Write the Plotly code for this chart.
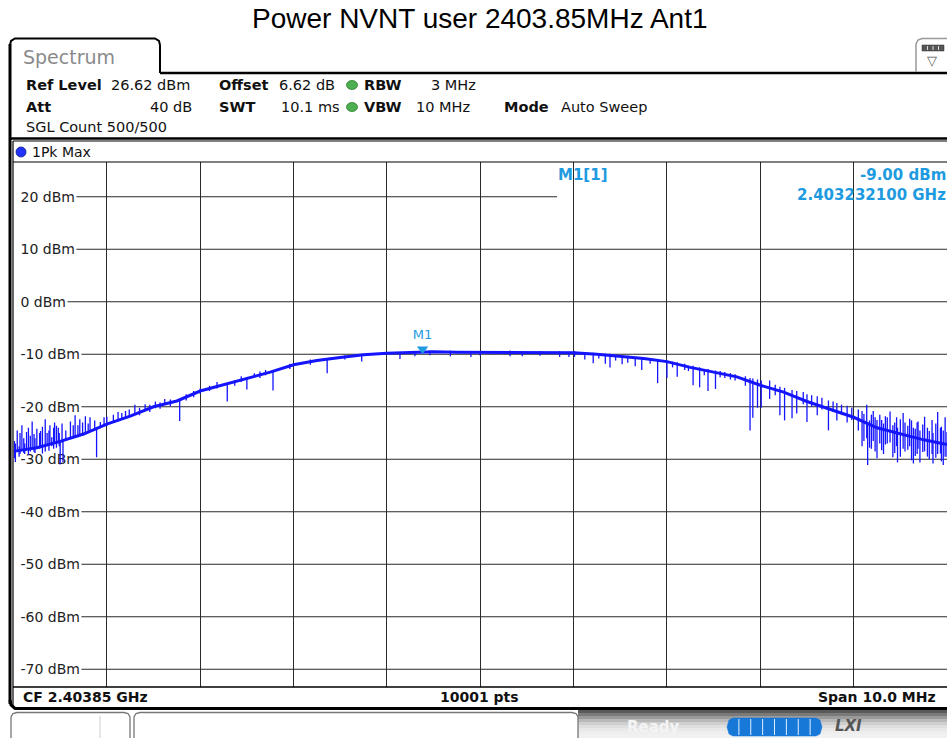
import plotly.graph_objects as go

# ---------------- data ----------------
start_ghz = 2.39885
span_mhz = 10.0
ref_level = 26.62
marker_freq_ghz = 2.4032321
marker_level = -9.00

# main trace line (offset from start frequency in MHz, level in dBm)
env_off = [0.0, 0.25, 0.5, 0.75, 1.0, 1.25, 1.5, 1.75, 2.0, 2.25, 2.5, 2.75, 3.0,
           3.25, 3.5, 3.75, 4.0, 4.25, 4.5, 4.75, 5.0, 5.25, 5.5, 5.75, 6.0, 6.25,
           6.5, 6.75, 7.0, 7.25, 7.5, 7.75, 8.0, 8.25, 8.5, 8.75, 9.0, 9.25, 9.5,
           9.75, 10.0]
env_dbm = [-28.5, -27.8, -26.6, -25.2, -23.3, -21.8, -20.0, -18.9, -17.0, -15.8,
           -14.6, -13.4, -12.0, -11.2, -10.6, -10.1, -9.8, -9.6, -9.5, -9.6, -9.6,
           -9.6, -9.6, -9.6, -9.7, -10.0, -10.4, -10.8, -11.4, -12.5, -13.4, -14.3,
           -15.9, -17.2, -19.0, -20.5, -22.0, -24.0, -25.2, -26.3, -27.2]

# spikes / noise excursions: offset (MHz), low (dBm), high (dBm)
spike_off = [0.02, 0.04, 0.06, 0.09, 0.12, 0.14, 0.18, 0.20, 0.23, 0.25, 0.28, 0.29,
             0.34, 0.36, 0.39, 0.41, 0.44, 0.48, 0.49, 0.50, 0.52, 0.53, 0.56, 0.61,
             0.64, 0.66, 0.69, 0.71, 0.74, 0.77, 0.80, 0.82, 0.87, 0.89, 0.93, 0.97,
             1.00, 1.07, 1.16, 1.24, 1.30, 1.41, 1.52, 1.62, 1.78, 2.00, 2.10, 2.29,
             2.37, 2.50, 2.64, 2.78, 2.96, 3.18, 3.36, 3.55, 3.73, 4.14, 4.46, 4.68,
             5.00, 5.32, 5.64, 5.85, 6.01, 6.12, 6.21, 6.34, 6.39, 6.52, 6.58, 6.66,
             6.73, 6.82, 6.90, 7.00, 7.11, 7.19, 7.28, 7.35, 7.44, 7.52, 7.62, 7.73,
             7.84, 7.89, 7.92, 7.97, 8.01, 8.10, 8.16, 8.21, 8.26, 8.34, 8.39, 8.46,
             8.50, 8.55, 8.61, 8.66, 8.73, 8.78, 8.82, 8.87, 8.93, 8.98, 9.05, 9.09,
             9.14, 9.15, 9.19, 9.21, 9.25, 9.28, 9.30, 9.36, 9.39, 9.42, 9.46, 9.47,
             9.53, 9.55, 9.60, 9.64, 9.68, 9.69, 9.71, 9.76, 9.79, 9.84, 9.85, 9.90,
             9.96, 9.98,
             0.01, 0.07, 0.11, 0.16, 0.22, 0.31, 0.38, 0.43, 0.46, 1.12, 1.20, 1.35,
             1.46, 1.57, 1.68, 1.85, 1.93, 2.18, 2.44, 2.58, 2.70, 4.30, 4.90, 5.45,
             5.95, 6.27, 6.45, 7.06, 7.23, 7.40, 7.57, 7.68, 9.11, 9.17, 9.23, 9.32,
             9.34, 9.44, 9.50, 9.58, 9.62, 9.66, 9.74, 9.81, 9.88, 9.93, 9.94, 10.0]
spike_lo = [-30.5, -28.5, -29.5, -28.3, -29.0, -28.2, -28.5, -28.0, -28.8, -27.8,
            -28.0, -27.6, -28.5, -27.5, -27.2, -27.5, -27.0, -27.0, -27.5, -31.0,
            -26.8, -30.5, -26.5, -26.2, -26.0, -25.8, -25.8, -25.6, -25.4, -25.2,
            -25.0, -24.8, -24.5, -29.6, -24.0, -23.8, -23.6, -23.0, -22.5, -22.0,
            -21.5, -20.8, -20.3, -19.6, -22.7, -17.5, -17.0, -19.0, -16.0, -16.7,
            -14.5, -16.9, -12.8, -12.0, -13.6, -11.0, -11.4, -10.9, -10.2, -10.4,
            -10.3, -10.4, -10.3, -10.5, -10.5, -11.0, -11.7, -11.8, -12.5, -11.9,
            -11.6, -12.3, -13.0, -11.8, -15.5, -14.5, -14.3, -13.0, -15.9, -16.3,
            -17.0, -16.6, -14.5, -15.0, -16.0, -24.5, -22.1, -20.2, -20.2, -18.5,
            -17.8, -21.6, -22.6, -22.2, -21.3, -19.5, -22.9, -20.0, -21.6, -20.5,
            -24.5, -21.0, -22.6, -21.5, -23.0, -22.5, -24.5, -27.5, -26.0, -31.1,
            -28.0, -26.5, -29.8, -27.0, -28.3, -27.0, -26.8, -29.6, -27.5, -30.6,
            -28.0, -28.5, -27.5, -30.8, -29.0, -28.0, -30.6, -28.5, -29.5, -29.0,
            -30.8, -29.0, -31.1, -29.5,
            -29.8, -29.0, -28.8, -29.2, -28.6, -28.9, -28.4, -28.0, -27.8, -22.8,
            -22.3, -21.6, -21.0, -20.4, -19.9, -18.8, -18.2, -16.5, -15.3, -14.4,
            -14.0, -10.4, -10.5, -10.4, -10.5, -10.8, -11.2, -12.5, -13.2, -14.0,
            -14.4, -14.8, -26.5, -27.8, -28.5, -29.0, -27.2, -28.8, -29.5, -28.2,
            -30.2, -29.4, -28.6, -30.0, -29.7, -28.9, -30.4, -29.5]
spike_hi = [-27.0, -24.5, -27.5, -23.5, -27.0, -24.8, -25.5, -22.8, -26.0, -24.2,
            -25.0, -24.6, -22.4, -25.0, -23.5, -25.8, -23.0, -24.0, -25.0, -26.5,
            -23.2, -26.5, -24.5, -22.8, -23.5, -21.6, -23.5, -22.4, -23.0, -21.8,
            -23.2, -22.0, -22.6, -24.0, -22.9, -22.0, -21.9, -21.5, -21.2, -20.5,
            -19.6, -19.5, -19.0, -18.5, -18.6, -16.5, -16.0, -15.5, -14.9, -14.4,
            -13.3, -13.2, -11.8, -11.0, -10.8, -10.2, -10.0, -9.6, -9.3, -9.3,
            -9.4, -9.3, -9.4, -9.4, -9.4, -9.6, -9.7, -9.9, -9.9, -10.2,
            -10.3, -10.5, -10.6, -10.8, -11.0, -11.2, -11.5, -11.8, -12.2, -12.5,
            -12.8, -13.1, -13.4, -13.8, -14.2, -14.5, -14.6, -14.8, -15.0, -15.0,
            -15.8, -16.2, -16.4, -16.8, -17.0, -17.2, -17.6, -17.8, -18.0, -18.3,
            -18.8, -19.0, -19.3, -19.6, -19.8, -20.2, -20.5, -20.8, -19.6, -23.0,
            -21.5, -20.8, -22.5, -21.5, -22.5, -22.0, -20.9, -23.5, -22.0, -24.0,
            -21.2, -23.0, -22.3, -24.0, -23.0, -22.8, -24.5, -21.9, -24.0, -22.5,
            -25.0, -21.0, -24.5, -22.0,
            -26.5, -25.0, -26.0, -24.0, -25.2, -23.8, -24.5, -24.0, -23.6, -21.0,
            -20.8, -20.2, -19.6, -19.2, -18.6, -17.6, -17.0, -15.3, -14.2, -13.6,
            -13.0, -9.4, -9.4, -9.4, -9.5, -9.8, -10.2, -11.4, -12.2, -12.9,
            -13.2, -13.6, -21.4, -22.6, -22.0, -23.2, -21.8, -23.0, -22.4, -23.6,
            -22.6, -24.2, -23.4, -24.6, -23.2, -24.0, -23.8, -24.8]

y_ticks = [20, 10, 0, -10, -20, -30, -40, -50, -60, -70]
y_tick_text = ["20 dBm", "10 dBm", "0 dBm", "-10 dBm", "-20 dBm", "-30 dBm",
               "-40 dBm", "-50 dBm", "-60 dBm", "-70 dBm"]

title_text = "Power NVNT user 2403.85MHz Ant1"
hdr_row1 = [("Ref Level", True), ("26.62 dBm", False), ("Offset", True),
            ("6.62 dB", False), ("RBW", True), ("3 MHz", False)]
hdr_row2 = [("Att", True), ("40 dB", False), ("SWT", True), ("10.1 ms", False),
            ("VBW", True), ("10 MHz", False), ("Mode", True), ("Auto Sweep", False)]
hdr_row3 = "SGL Count 500/500"
trace_label = "1Pk Max"
marker_name = "M1"
marker_title = "M1[1]"
footer_left = "CF 2.40385 GHz"
footer_mid = "10001 pts"
footer_right = "Span 10.0 MHz"

# ---------------- layout helpers ----------------
W, H = 947, 738
FONT = "DejaVu Sans"
BLUE = "#1414FF"
MCOL = "#1E9BE0"


def X(px):
    return px / W


def Y(py):
    return 1 - py / H


def P(points, close=False):
    s = "M " + " L ".join(f"{X(a):.5f},{Y(b):.5f}" for a, b in points)
    return s + (" Z" if close else "")


shapes = []
annos = []


def line(x0, y0, x1, y1, color="#000", width=1.0, layer="above"):
    shapes.append(dict(type="line", xref="paper", yref="paper", x0=X(x0), y0=Y(y0),
                       x1=X(x1), y1=Y(y1), line=dict(color=color, width=width),
                       layer=layer))


def rect(x0, y0, x1, y1, fill, color=None, width=0, layer="above"):
    shapes.append(dict(type="rect", xref="paper", yref="paper", x0=X(x0), y0=Y(y0),
                       x1=X(x1), y1=Y(y1), fillcolor=fill,
                       line=dict(color=color or fill, width=width), layer=layer))


def text(x, y, s, size=14, color="#111", bold=False, anchor="left", family=FONT):
    annos.append(dict(xref="paper", yref="paper", x=X(x), y=Y(y), text=(f"<b>{s}</b>" if bold else s),
                      showarrow=False, xanchor=anchor, yanchor="middle",
                      font=dict(family=family, size=size, color=color),
                      borderpad=0))


fig = go.Figure()

# spikes as vertical segments
sx, sy = [], []
for f, lo, hi in zip(spike_off, spike_lo, spike_hi):
    sx += [f, f, None]
    sy += [lo, hi, None]
fig.add_trace(go.Scatter(x=sx, y=sy, mode="lines", line=dict(color=BLUE, width=1.3),
                         hoverinfo="skip", showlegend=False))
fig.add_trace(go.Scatter(x=env_off, y=env_dbm, mode="lines",
                         line=dict(color=BLUE, width=3), hoverinfo="skip",
                         showlegend=False))
m_off = (marker_freq_ghz - start_ghz) * 1000
fig.add_trace(go.Scatter(x=[m_off], y=[marker_level], mode="markers+text",
                         marker=dict(symbol="triangle-down", size=10, color=MCOL),
                         text=[marker_name], textposition="top center",
                         textfont=dict(family=FONT, size=13, color=MCOL),
                         hoverinfo="skip", showlegend=False))

# ---------------- plot frame & grid ----------------
PL, PR, PT, PB = 13.5, 947.5, 162, 687
char_w = {"0": .636, "1": .636, "2": .636, "3": .636, "4": .636, "5": .636,
          "6": .636, "7": .636, "8": .636, "9": .636, "-": .361, " ": .318,
          "d": .635, "B": .686, "m": .974}
for v, t in zip(y_ticks, y_tick_text):
    wpx = sum(char_w.get(c, .6) for c in t) * 14
    x_end = 557 if v == 20 else W + 2
    shapes.append(dict(type="line", xref="paper", yref="y", x0=X(20 + wpx + 2), x1=X(x_end),
                       y0=v, y1=v, line=dict(color="#2a2a2a", width=1), layer="between"))
# marker readout box (white, hides grid)
rect(557, PT + 1, W + 2, 205, "white", layer="between")
text(557, 175, marker_title, size=15, color=MCOL, bold=True)
text(947, 175, f"{marker_level:.2f} dBm", size=15, color=MCOL, bold=True, anchor="right")
text(947, 195, f"{marker_freq_ghz:.9f} GHz", size=15, color=MCOL, bold=True, anchor="right")

# title
text(480, 19, title_text, size=28, color="#000", family="Liberation Sans", anchor="center")

# tab "Spectrum"
shapes.append(dict(type="path", xref="paper", yref="paper",
                   path=P([(10, 73), (10, 45), (11, 41), (15, 38.5), (155, 38.5), (159, 41),
                           (160, 45), (160, 73)]),
                   line=dict(color="#000", width=2)))
text(22, 57, "Spectrum", size=19, color="#8a8a8a")
line(160, 73, W + 2, 73, width=2.5)
# right icon
shapes.append(dict(type="path", xref="paper", yref="paper",
                   path=P([(916, 72), (916, 44), (918, 40), (922, 38.5), (W + 2, 38.5)]),
                   line=dict(color="#999", width=1.5)))
rect(922, 45, 944, 51, "#555", "#333", 0.5)
for xx in (927.5, 933, 938.5):
    line(xx, 46, xx, 50, "#ddd", 1)
text(932, 60, "▽", size=13, color="#555", anchor="center")

# header texts
row1_x = [25, 110, 218, 278, 363, 430]
for (s, b), xx in zip(hdr_row1, row1_x):
    text(xx, 85, s, size=14.5, bold=b, color="#111")
row2_x = [25, None, 218, 280, 363, 415, 503, 560]
for (s, b), xx in zip(hdr_row2, row2_x):
    if xx is None:
        text(193, 107, s, size=14.5, bold=b, anchor="right")
    else:
        text(xx, 107, s, size=14.5, bold=b)
text(25, 127, hdr_row3, size=14.5)
for yy in (85, 107):
    shapes.append(dict(type="circle", xref="paper", yref="paper", x0=X(346.5), x1=X(357.5),
                       y0=Y(yy - 4.5), y1=Y(yy + 4.5), fillcolor="#4caf50",
                       line=dict(color="#2e7d32", width=0.8)))

# outer frame
line(10, 44, 10, 704, width=3)
line(10, 138.5, W + 2, 138.5, width=2.5)
shapes.append(dict(type="path", xref="paper", yref="paper",
                   path=P([(10, 700), (11, 705), (15, 708.5), (W + 2, 708.5)]),
                   line=dict(color="#000", width=3)))
line(13, 141, 13, 706, width=1.2)
line(13, 141, W + 2, 141, width=1.2)
line(13, 162, W + 2, 162, width=1.2)
line(13, 687, W + 2, 687, width=1.5)
# trace label row
shapes.append(dict(type="circle", xref="paper", yref="paper", x0=X(16), x1=X(26),
                   y0=Y(147), y1=Y(157), fillcolor="#2233ff",
                   line=dict(color="#0a1a80", width=0.8)))
text(31, 152, trace_label, size=14)

# footer
text(22, 697, footer_left, size=14, bold=True)
text(479, 697, footer_mid, size=14, bold=True, anchor="center")
text(937, 697, footer_right, size=14, bold=True, anchor="right")

# status bar
grad = ["#5a5a5a", "#7a7a7a", "#9a9a9a", "#b8b8b8", "#cfcfcf", "#dedede", "#e8e8e8",
        "#eeeeee", "#f1f1f1"]
for i, c in enumerate(grad):
    y0 = 710 + i * 3
    rect(578, y0, W + 2, (y0 + 3) if i < len(grad) - 1 else H + 2, c)
shapes.append(dict(type="path", xref="paper", yref="paper",
                   path=P([(11, H + 2), (11, 717), (13, 713.5), (17, 712.5), (124, 712.5),
                           (128, 713.5), (130, 717), (130, H + 2)]),
                   line=dict(color="#777", width=1.3)))
line(100, 716, 100, H, "#ccc", 1)
shapes.append(dict(type="path", xref="paper", yref="paper",
                   path=P([(134, H + 2), (134, 717), (136, 713.5), (140, 712.5), (572, 712.5),
                           (576, 713.5), (578, 717), (578, H + 2)]),
                   line=dict(color="#777", width=1.3), fillcolor="white"))
text(653, 727, "Ready", size=15, bold=True, color="#f4f4f4", anchor="center")
shapes.append(dict(type="path", xref="paper", yref="paper",
                   path=P([(733, 718), (816, 718), (820, 720), (822, 727), (820, 734), (816, 736),
                           (733, 736), (729, 734), (727, 727), (729, 720)], close=True),
                   fillcolor="#1878d8", line=dict(color="#1878d8", width=0.5)))
for k in range(1, 8):
    xx = 727 + k * 95 / 8
    line(xx, 719, xx, 735, "#dfefff", 1)
text(848, 726, "<i>LXI</i>", size=15, bold=True, color="#555", anchor="center")

fig.update_layout(
    width=W, height=H, margin=dict(l=0, r=0, t=0, b=0), autosize=False,
    paper_bgcolor="white", plot_bgcolor="white",
    shapes=shapes, annotations=annos,
    xaxis=dict(domain=[X(PL), 1.0], range=[0, span_mhz], showgrid=True, dtick=1, tick0=0,
               gridcolor="#2a2a2a", gridwidth=1, showticklabels=False, zeroline=False,
               showline=False, ticks=""),
    yaxis=dict(domain=[Y(PB), Y(PT)], range=[ref_level - 100, ref_level], showgrid=False,
               zeroline=False, tickvals=y_ticks, ticktext=y_tick_text,
               ticklabelposition="inside", ticks="", ticklabelstandoff=4,
               tickfont=dict(family=FONT, size=14, color="#222"), layer="below traces",
               showline=False),
)
fig.write_html("out.html", config={"displayModeBar": False},
               post_script="document.body.style.margin='0';document.body.style.overflow='hidden';")
